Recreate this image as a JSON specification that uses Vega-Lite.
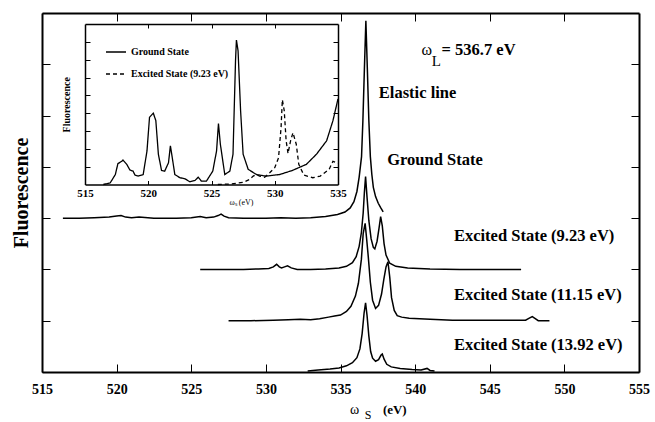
{
  "$schema": "https://vega.github.io/schema/vega-lite/v6.json",
  "width": 597,
  "height": 359,
  "autosize": {"type": "none"},
  "padding": {"left": 42, "top": 13, "right": 16, "bottom": 50},
  "background": "white",
  "config": {
    "view": {"stroke": null},
    "font": "Liberation Serif",
    "axis": {"grid": false, "domainColor": "black", "tickColor": "black", "labelColor": "black", "titleColor": "black", "labelFont": "Liberation Serif", "titleFont": "Liberation Serif", "labelFontWeight": "bold", "titleFontWeight": "bold"},
    "legend": {"labelFont": "Liberation Serif", "labelColor": "black"}
  },
  "datasets": {
    "main": [
      {"series": "Ground State", "x": 516.4, "y": 3.0},
      {"series": "Ground State", "x": 517.5, "y": 3.0},
      {"series": "Ground State", "x": 518.5, "y": 3.01},
      {"series": "Ground State", "x": 519.5, "y": 3.02},
      {"series": "Ground State", "x": 520.0, "y": 3.04},
      {"series": "Ground State", "x": 520.3, "y": 3.05},
      {"series": "Ground State", "x": 520.6, "y": 3.02},
      {"series": "Ground State", "x": 521.0, "y": 3.01},
      {"series": "Ground State", "x": 521.5, "y": 3.02},
      {"series": "Ground State", "x": 522.5, "y": 3.0},
      {"series": "Ground State", "x": 524.0, "y": 3.0},
      {"series": "Ground State", "x": 525.0, "y": 3.01},
      {"series": "Ground State", "x": 525.6, "y": 3.03},
      {"series": "Ground State", "x": 526.0, "y": 3.01},
      {"series": "Ground State", "x": 526.5, "y": 3.02},
      {"series": "Ground State", "x": 526.8, "y": 3.05},
      {"series": "Ground State", "x": 527.0, "y": 3.08},
      {"series": "Ground State", "x": 527.2, "y": 3.04},
      {"series": "Ground State", "x": 527.5, "y": 3.01},
      {"series": "Ground State", "x": 528.5, "y": 3.0},
      {"series": "Ground State", "x": 530.0, "y": 3.0},
      {"series": "Ground State", "x": 531.0, "y": 3.01},
      {"series": "Ground State", "x": 532.0, "y": 3.0},
      {"series": "Ground State", "x": 533.0, "y": 3.01},
      {"series": "Ground State", "x": 534.0, "y": 3.03},
      {"series": "Ground State", "x": 534.8, "y": 3.07},
      {"series": "Ground State", "x": 535.3, "y": 3.12},
      {"series": "Ground State", "x": 535.65, "y": 3.2},
      {"series": "Ground State", "x": 535.9, "y": 3.32},
      {"series": "Ground State", "x": 536.1, "y": 3.52},
      {"series": "Ground State", "x": 536.25, "y": 3.8},
      {"series": "Ground State", "x": 536.41, "y": 4.2},
      {"series": "Ground State", "x": 536.5, "y": 4.9},
      {"series": "Ground State", "x": 536.6, "y": 5.9},
      {"series": "Ground State", "x": 536.7, "y": 6.85},
      {"series": "Ground State", "x": 536.8, "y": 5.9},
      {"series": "Ground State", "x": 536.9, "y": 4.9},
      {"series": "Ground State", "x": 537.0, "y": 4.2},
      {"series": "Ground State", "x": 537.1, "y": 3.85},
      {"series": "Ground State", "x": 537.2, "y": 3.6},
      {"series": "Ground State", "x": 537.35, "y": 3.42},
      {"series": "Ground State", "x": 537.53, "y": 3.29},
      {"series": "Ground State", "x": 537.7, "y": 3.2},
      {"series": "Ground State", "x": 537.86, "y": 3.12},
      {"series": "Excited State (9.23 eV)", "x": 525.6, "y": 2.0},
      {"series": "Excited State (9.23 eV)", "x": 527.0, "y": 2.0},
      {"series": "Excited State (9.23 eV)", "x": 528.5, "y": 2.0},
      {"series": "Excited State (9.23 eV)", "x": 529.5, "y": 2.01},
      {"series": "Excited State (9.23 eV)", "x": 530.2, "y": 2.02},
      {"series": "Excited State (9.23 eV)", "x": 530.5, "y": 2.05},
      {"series": "Excited State (9.23 eV)", "x": 530.72, "y": 2.1},
      {"series": "Excited State (9.23 eV)", "x": 530.9, "y": 2.05},
      {"series": "Excited State (9.23 eV)", "x": 531.05, "y": 2.03},
      {"series": "Excited State (9.23 eV)", "x": 531.25, "y": 2.05},
      {"series": "Excited State (9.23 eV)", "x": 531.45, "y": 2.07},
      {"series": "Excited State (9.23 eV)", "x": 531.7, "y": 2.03},
      {"series": "Excited State (9.23 eV)", "x": 532.1, "y": 2.0},
      {"series": "Excited State (9.23 eV)", "x": 533.0, "y": 2.0},
      {"series": "Excited State (9.23 eV)", "x": 534.0, "y": 2.01},
      {"series": "Excited State (9.23 eV)", "x": 534.9, "y": 2.03},
      {"series": "Excited State (9.23 eV)", "x": 535.4, "y": 2.06},
      {"series": "Excited State (9.23 eV)", "x": 535.8, "y": 2.13},
      {"series": "Excited State (9.23 eV)", "x": 536.05, "y": 2.25},
      {"series": "Excited State (9.23 eV)", "x": 536.25, "y": 2.45},
      {"series": "Excited State (9.23 eV)", "x": 536.4, "y": 2.72},
      {"series": "Excited State (9.23 eV)", "x": 536.52, "y": 3.1},
      {"series": "Excited State (9.23 eV)", "x": 536.6, "y": 3.5},
      {"series": "Excited State (9.23 eV)", "x": 536.68, "y": 3.81},
      {"series": "Excited State (9.23 eV)", "x": 536.78, "y": 3.4},
      {"series": "Excited State (9.23 eV)", "x": 536.9, "y": 2.95},
      {"series": "Excited State (9.23 eV)", "x": 537.05, "y": 2.6},
      {"series": "Excited State (9.23 eV)", "x": 537.2, "y": 2.43},
      {"series": "Excited State (9.23 eV)", "x": 537.3, "y": 2.4},
      {"series": "Excited State (9.23 eV)", "x": 537.45, "y": 2.55},
      {"series": "Excited State (9.23 eV)", "x": 537.58, "y": 2.8},
      {"series": "Excited State (9.23 eV)", "x": 537.69, "y": 3.03},
      {"series": "Excited State (9.23 eV)", "x": 537.8, "y": 2.85},
      {"series": "Excited State (9.23 eV)", "x": 537.92, "y": 2.5},
      {"series": "Excited State (9.23 eV)", "x": 538.05, "y": 2.28},
      {"series": "Excited State (9.23 eV)", "x": 538.3, "y": 2.12},
      {"series": "Excited State (9.23 eV)", "x": 538.7, "y": 2.06},
      {"series": "Excited State (9.23 eV)", "x": 539.5, "y": 2.03},
      {"series": "Excited State (9.23 eV)", "x": 541.0, "y": 2.01},
      {"series": "Excited State (9.23 eV)", "x": 543.0, "y": 2.0},
      {"series": "Excited State (9.23 eV)", "x": 545.0, "y": 2.0},
      {"series": "Excited State (9.23 eV)", "x": 547.1, "y": 2.0},
      {"series": "Excited State (11.15 eV)", "x": 527.5, "y": 1.0},
      {"series": "Excited State (11.15 eV)", "x": 529.0, "y": 1.0},
      {"series": "Excited State (11.15 eV)", "x": 530.5, "y": 1.01},
      {"series": "Excited State (11.15 eV)", "x": 531.5, "y": 1.02},
      {"series": "Excited State (11.15 eV)", "x": 532.3, "y": 1.03},
      {"series": "Excited State (11.15 eV)", "x": 533.0, "y": 1.02},
      {"series": "Excited State (11.15 eV)", "x": 533.6, "y": 1.04},
      {"series": "Excited State (11.15 eV)", "x": 534.2, "y": 1.07},
      {"series": "Excited State (11.15 eV)", "x": 534.6, "y": 1.09},
      {"series": "Excited State (11.15 eV)", "x": 535.0, "y": 1.11},
      {"series": "Excited State (11.15 eV)", "x": 535.4, "y": 1.18},
      {"series": "Excited State (11.15 eV)", "x": 535.7, "y": 1.28},
      {"series": "Excited State (11.15 eV)", "x": 536.0, "y": 1.48},
      {"series": "Excited State (11.15 eV)", "x": 536.2, "y": 1.73},
      {"series": "Excited State (11.15 eV)", "x": 536.4, "y": 2.2},
      {"series": "Excited State (11.15 eV)", "x": 536.52, "y": 2.7},
      {"series": "Excited State (11.15 eV)", "x": 536.65, "y": 2.9},
      {"series": "Excited State (11.15 eV)", "x": 536.75, "y": 2.6},
      {"series": "Excited State (11.15 eV)", "x": 536.86, "y": 2.25},
      {"series": "Excited State (11.15 eV)", "x": 537.0, "y": 1.75},
      {"series": "Excited State (11.15 eV)", "x": 537.15, "y": 1.4},
      {"series": "Excited State (11.15 eV)", "x": 537.35, "y": 1.24},
      {"series": "Excited State (11.15 eV)", "x": 537.55, "y": 1.3},
      {"series": "Excited State (11.15 eV)", "x": 537.75, "y": 1.52},
      {"series": "Excited State (11.15 eV)", "x": 537.9, "y": 1.8},
      {"series": "Excited State (11.15 eV)", "x": 538.05, "y": 2.05},
      {"series": "Excited State (11.15 eV)", "x": 538.18, "y": 2.15},
      {"series": "Excited State (11.15 eV)", "x": 538.3, "y": 1.85},
      {"series": "Excited State (11.15 eV)", "x": 538.42, "y": 1.45},
      {"series": "Excited State (11.15 eV)", "x": 538.6, "y": 1.2},
      {"series": "Excited State (11.15 eV)", "x": 538.8, "y": 1.1},
      {"series": "Excited State (11.15 eV)", "x": 539.1, "y": 1.07},
      {"series": "Excited State (11.15 eV)", "x": 539.6, "y": 1.05},
      {"series": "Excited State (11.15 eV)", "x": 541.0, "y": 1.03},
      {"series": "Excited State (11.15 eV)", "x": 542.5, "y": 1.01},
      {"series": "Excited State (11.15 eV)", "x": 544.0, "y": 1.01},
      {"series": "Excited State (11.15 eV)", "x": 546.0, "y": 1.01},
      {"series": "Excited State (11.15 eV)", "x": 547.4, "y": 1.01},
      {"series": "Excited State (11.15 eV)", "x": 547.65, "y": 1.05},
      {"series": "Excited State (11.15 eV)", "x": 547.85, "y": 1.08},
      {"series": "Excited State (11.15 eV)", "x": 548.05, "y": 1.04},
      {"series": "Excited State (11.15 eV)", "x": 548.25, "y": 1.0},
      {"series": "Excited State (11.15 eV)", "x": 549.0, "y": 1.0},
      {"series": "Excited State (13.92 eV)", "x": 532.8, "y": 0.02},
      {"series": "Excited State (13.92 eV)", "x": 533.5, "y": 0.04},
      {"series": "Excited State (13.92 eV)", "x": 534.3, "y": 0.06},
      {"series": "Excited State (13.92 eV)", "x": 534.9, "y": 0.08},
      {"series": "Excited State (13.92 eV)", "x": 535.4, "y": 0.12},
      {"series": "Excited State (13.92 eV)", "x": 535.8, "y": 0.18},
      {"series": "Excited State (13.92 eV)", "x": 536.1, "y": 0.28},
      {"series": "Excited State (13.92 eV)", "x": 536.3, "y": 0.45},
      {"series": "Excited State (13.92 eV)", "x": 536.45, "y": 0.75},
      {"series": "Excited State (13.92 eV)", "x": 536.58, "y": 1.15},
      {"series": "Excited State (13.92 eV)", "x": 536.68, "y": 1.35},
      {"series": "Excited State (13.92 eV)", "x": 536.78, "y": 1.1},
      {"series": "Excited State (13.92 eV)", "x": 536.9, "y": 0.7},
      {"series": "Excited State (13.92 eV)", "x": 537.02, "y": 0.4},
      {"series": "Excited State (13.92 eV)", "x": 537.15, "y": 0.27},
      {"series": "Excited State (13.92 eV)", "x": 537.35, "y": 0.21},
      {"series": "Excited State (13.92 eV)", "x": 537.55, "y": 0.24},
      {"series": "Excited State (13.92 eV)", "x": 537.72, "y": 0.33},
      {"series": "Excited State (13.92 eV)", "x": 537.8, "y": 0.35},
      {"series": "Excited State (13.92 eV)", "x": 537.92, "y": 0.25},
      {"series": "Excited State (13.92 eV)", "x": 538.1, "y": 0.15},
      {"series": "Excited State (13.92 eV)", "x": 538.4, "y": 0.1},
      {"series": "Excited State (13.92 eV)", "x": 539.0, "y": 0.07},
      {"series": "Excited State (13.92 eV)", "x": 539.8, "y": 0.05},
      {"series": "Excited State (13.92 eV)", "x": 540.4, "y": 0.04},
      {"series": "Excited State (13.92 eV)", "x": 540.8, "y": 0.07},
      {"series": "Excited State (13.92 eV)", "x": 541.0, "y": 0.03},
      {"series": "Excited State (13.92 eV)", "x": 541.3, "y": 0.02}
    ],
    "inset": [
      {"series": "Ground State", "x": 516.45, "y": 0.0},
      {"series": "Ground State", "x": 517.0, "y": 0.1},
      {"series": "Ground State", "x": 517.4, "y": 0.56},
      {"series": "Ground State", "x": 517.6, "y": 1.17},
      {"series": "Ground State", "x": 517.9, "y": 1.3},
      {"series": "Ground State", "x": 518.0, "y": 1.37},
      {"series": "Ground State", "x": 518.3, "y": 1.13},
      {"series": "Ground State", "x": 518.55, "y": 0.81},
      {"series": "Ground State", "x": 518.8, "y": 0.75},
      {"series": "Ground State", "x": 518.95, "y": 0.53},
      {"series": "Ground State", "x": 519.2, "y": 0.47},
      {"series": "Ground State", "x": 519.6, "y": 0.56},
      {"series": "Ground State", "x": 519.9, "y": 1.88},
      {"series": "Ground State", "x": 520.1, "y": 3.77},
      {"series": "Ground State", "x": 520.4, "y": 4.0},
      {"series": "Ground State", "x": 520.6, "y": 3.58},
      {"series": "Ground State", "x": 520.8, "y": 1.7},
      {"series": "Ground State", "x": 521.05, "y": 0.79},
      {"series": "Ground State", "x": 521.3, "y": 0.75},
      {"series": "Ground State", "x": 521.6, "y": 1.22},
      {"series": "Ground State", "x": 521.75, "y": 2.17},
      {"series": "Ground State", "x": 521.9, "y": 1.5},
      {"series": "Ground State", "x": 522.1, "y": 0.56},
      {"series": "Ground State", "x": 522.5, "y": 0.38},
      {"series": "Ground State", "x": 522.9, "y": 0.32},
      {"series": "Ground State", "x": 523.3, "y": 0.15},
      {"series": "Ground State", "x": 523.7, "y": 0.23},
      {"series": "Ground State", "x": 523.95, "y": 0.41},
      {"series": "Ground State", "x": 524.2, "y": 0.19},
      {"series": "Ground State", "x": 524.6, "y": 0.19},
      {"series": "Ground State", "x": 525.1, "y": 0.75},
      {"series": "Ground State", "x": 525.4, "y": 1.88},
      {"series": "Ground State", "x": 525.55, "y": 3.42},
      {"series": "Ground State", "x": 525.7, "y": 2.26},
      {"series": "Ground State", "x": 526.05, "y": 0.56},
      {"series": "Ground State", "x": 526.45, "y": 0.75},
      {"series": "Ground State", "x": 526.7, "y": 1.7},
      {"series": "Ground State", "x": 526.9, "y": 6.97},
      {"series": "Ground State", "x": 526.97, "y": 8.1},
      {"series": "Ground State", "x": 527.1, "y": 7.5},
      {"series": "Ground State", "x": 527.3, "y": 4.14},
      {"series": "Ground State", "x": 527.5, "y": 1.7},
      {"series": "Ground State", "x": 527.9, "y": 0.85},
      {"series": "Ground State", "x": 528.55, "y": 0.56},
      {"series": "Ground State", "x": 529.3, "y": 0.47},
      {"series": "Ground State", "x": 530.4, "y": 0.56},
      {"series": "Ground State", "x": 531.4, "y": 0.79},
      {"series": "Ground State", "x": 532.5, "y": 1.13},
      {"series": "Ground State", "x": 533.3, "y": 1.7},
      {"series": "Ground State", "x": 534.1, "y": 2.45},
      {"series": "Ground State", "x": 534.6, "y": 3.58},
      {"series": "Ground State", "x": 535.0, "y": 4.8},
      {"series": "Excited State (9.23 eV)", "x": 525.5, "y": 0.0},
      {"series": "Excited State (9.23 eV)", "x": 526.5, "y": 0.03},
      {"series": "Excited State (9.23 eV)", "x": 527.5, "y": 0.12},
      {"series": "Excited State (9.23 eV)", "x": 528.0, "y": 0.28},
      {"series": "Excited State (9.23 eV)", "x": 528.3, "y": 0.47},
      {"series": "Excited State (9.23 eV)", "x": 528.55, "y": 0.56},
      {"series": "Excited State (9.23 eV)", "x": 528.8, "y": 0.47},
      {"series": "Excited State (9.23 eV)", "x": 529.2, "y": 0.41},
      {"series": "Excited State (9.23 eV)", "x": 529.6, "y": 0.66},
      {"series": "Excited State (9.23 eV)", "x": 530.0, "y": 0.94},
      {"series": "Excited State (9.23 eV)", "x": 530.3, "y": 1.5},
      {"series": "Excited State (9.23 eV)", "x": 530.5, "y": 3.2},
      {"series": "Excited State (9.23 eV)", "x": 530.6, "y": 4.75},
      {"series": "Excited State (9.23 eV)", "x": 530.75, "y": 4.14},
      {"series": "Excited State (9.23 eV)", "x": 530.9, "y": 2.45},
      {"series": "Excited State (9.23 eV)", "x": 531.05, "y": 1.74},
      {"series": "Excited State (9.23 eV)", "x": 531.25, "y": 2.45},
      {"series": "Excited State (9.23 eV)", "x": 531.44, "y": 2.9},
      {"series": "Excited State (9.23 eV)", "x": 531.7, "y": 2.26},
      {"series": "Excited State (9.23 eV)", "x": 531.9, "y": 1.13},
      {"series": "Excited State (9.23 eV)", "x": 532.3, "y": 0.53},
      {"series": "Excited State (9.23 eV)", "x": 533.0, "y": 0.38},
      {"series": "Excited State (9.23 eV)", "x": 533.6, "y": 0.47},
      {"series": "Excited State (9.23 eV)", "x": 534.3, "y": 0.85},
      {"series": "Excited State (9.23 eV)", "x": 534.6, "y": 1.3},
      {"series": "Excited State (9.23 eV)", "x": 534.9, "y": 1.22},
      {"series": "Excited State (9.23 eV)", "x": 535.0, "y": 1.2}
    ]
  },
  "layer": [
    {
      "data": {"name": "main"},
      "mark": {"type": "line", "color": "black", "strokeWidth": 1.5},
      "encoding": {
        "x": {"field": "x", "type": "quantitative", "scale": {"domain": [515, 555], "nice": false, "zero": false},
          "axis": {"orient": "bottom", "values": [515, 520, 525, 530, 535, 540, 545, 550, 555], "tickSize": -8, "labelPadding": 18, "labelFontSize": 14, "domainWidth": 2, "tickWidth": 1, "title": null, "labelFlush": false}},
        "y": {"field": "y", "type": "quantitative", "scale": {"domain": [0, 7], "nice": false, "zero": false},
          "axis": {"orient": "left", "values": [0, 1, 2, 3, 4, 5, 6, 7], "labels": false, "tickSize": -8, "domainWidth": 2, "title": "Fluorescence", "titleFontSize": 20, "titlePadding": 10}},
        "detail": {"field": "series"}
      }
    },
    {
      "data": {"name": "main"},
      "mark": {"type": "line", "opacity": 0},
      "encoding": {
        "x": {"field": "x", "type": "quantitative", "scale": {"domain": [515, 555], "nice": false, "zero": false},
          "axis": {"orient": "top", "values": [520, 525, 530, 535, 540, 545, 550], "labels": false, "tickSize": -8, "domainWidth": 2, "title": null}},
        "y": {"field": "y", "type": "quantitative", "scale": {"domain": [0, 7], "nice": false, "zero": false},
          "axis": {"orient": "right", "values": [1, 2, 3, 4, 5, 6], "labels": false, "tickSize": -8, "domainWidth": 2, "title": null}},
        "detail": {"field": "series"}
      }
    },
    {
      "data": {"values": [
        {"label": "Elastic line", "x": 537.57, "y": 5.34},
        {"label": "Ground State", "x": 538.13, "y": 4.03},
        {"label": "Excited State (9.23 eV)", "x": 542.6, "y": 2.56},
        {"label": "Excited State (11.15 eV)", "x": 542.6, "y": 1.4},
        {"label": "Excited State (13.92 eV)", "x": 542.6, "y": 0.43},
        {"label": "= 536.7 eV", "x": 541.77, "y": 6.18}
      ]},
      "mark": {"type": "text", "align": "left", "baseline": "alphabetic", "fontSize": 16.5, "fontWeight": "bold", "font": "Liberation Serif", "color": "black"},
      "encoding": {
        "x": {"field": "x", "type": "quantitative", "scale": {"domain": [515, 555], "nice": false, "zero": false}, "axis": null},
        "y": {"field": "y", "type": "quantitative", "scale": {"domain": [0, 7], "nice": false, "zero": false}, "axis": null},
        "text": {"field": "label"}
      }
    },
    {
      "data": {"values": [{"label": "ω", "x": 540.43, "y": 6.18}]},
      "mark": {"type": "text", "align": "left", "baseline": "alphabetic", "fontSize": 16, "font": "Liberation Serif", "color": "black"},
      "encoding": {
        "x": {"field": "x", "type": "quantitative", "scale": {"domain": [515, 555], "nice": false, "zero": false}, "axis": null},
        "y": {"field": "y", "type": "quantitative", "scale": {"domain": [0, 7], "nice": false, "zero": false}, "axis": null},
        "text": {"field": "label"}
      }
    },
    {
      "data": {"values": [{"label": "L", "x": 541.12, "y": 5.96}]},
      "mark": {"type": "text", "align": "left", "baseline": "alphabetic", "fontSize": 15, "font": "Liberation Serif", "color": "black"},
      "encoding": {
        "x": {"field": "x", "type": "quantitative", "scale": {"domain": [515, 555], "nice": false, "zero": false}, "axis": null},
        "y": {"field": "y", "type": "quantitative", "scale": {"domain": [0, 7], "nice": false, "zero": false}, "axis": null},
        "text": {"field": "label"}
      }
    },
    {
      "data": {"values": [{"label": "ω", "x": 535.63, "y": -0.82}]},
      "mark": {"type": "text", "align": "left", "baseline": "alphabetic", "fontSize": 14, "font": "Liberation Serif", "color": "black"},
      "encoding": {
        "x": {"field": "x", "type": "quantitative", "scale": {"domain": [515, 555], "nice": false, "zero": false}, "axis": null},
        "y": {"field": "y", "type": "quantitative", "scale": {"domain": [0, 7], "nice": false, "zero": false}, "axis": null},
        "text": {"field": "label"}
      }
    },
    {
      "data": {"values": [{"label": "S", "x": 536.63, "y": -0.92}]},
      "mark": {"type": "text", "align": "left", "baseline": "alphabetic", "fontSize": 12, "font": "Liberation Serif", "color": "black"},
      "encoding": {
        "x": {"field": "x", "type": "quantitative", "scale": {"domain": [515, 555], "nice": false, "zero": false}, "axis": null},
        "y": {"field": "y", "type": "quantitative", "scale": {"domain": [0, 7], "nice": false, "zero": false}, "axis": null},
        "text": {"field": "label"}
      }
    },
    {
      "data": {"values": [{"label": "(eV)", "x": 537.84, "y": -0.81}]},
      "mark": {"type": "text", "align": "left", "baseline": "alphabetic", "fontSize": 13, "fontWeight": "bold", "font": "Liberation Serif", "color": "black"},
      "encoding": {
        "x": {"field": "x", "type": "quantitative", "scale": {"domain": [515, 555], "nice": false, "zero": false}, "axis": null},
        "y": {"field": "y", "type": "quantitative", "scale": {"domain": [0, 7], "nice": false, "zero": false}, "axis": null},
        "text": {"field": "label"}
      }
    },
    {
      "data": {"name": "inset"},
      "mark": {"type": "line", "color": "black", "strokeWidth": 1.3},
      "encoding": {
        "x": {"field": "x", "type": "quantitative", "scale": {"domain": [515, 535], "range": [43, 296], "nice": false, "zero": false},
          "axis": {"orient": "bottom", "offset": -187.5, "values": [515, 520, 525, 530, 535], "tickSize": -4, "labelPadding": 7, "labelFontSize": 11, "domainWidth": 1.5, "labelFlush": false, "title": "ωₛ  (eV)", "titleFontSize": 8, "titleFontWeight": "normal", "titlePadding": 0, "titleX": 199}},
        "y": {"field": "y", "type": "quantitative", "scale": {"domain": [0, 9], "range": [171.5, 11], "nice": false, "zero": false},
          "axis": {"orient": "left", "offset": -43, "values": [1, 2, 3, 4, 5, 6, 7, 8], "labels": false, "tickSize": -5, "domainWidth": 1.5, "title": "Fluorescence", "titleFontSize": 10, "titlePadding": 13}},
        "strokeDash": {"field": "series", "type": "nominal",
          "scale": {"domain": ["Ground State", "Excited State (9.23 eV)"], "range": [[1, 0], [4, 3]]},
          "legend": {"orient": "none", "legendX": 63, "legendY": 28, "title": null, "padding": 0, "symbolType": "stroke", "symbolSize": 400, "symbolStrokeWidth": 1.3, "symbolStrokeColor": "black", "labelFontSize": 10, "labelFontWeight": "bold", "labelOffset": 4, "rowPadding": 6}}
      }
    },
    {
      "data": {"name": "inset"},
      "mark": {"type": "line", "opacity": 0},
      "encoding": {
        "x": {"field": "x", "type": "quantitative", "scale": {"domain": [515, 535], "range": [43, 296], "nice": false, "zero": false},
          "axis": {"orient": "top", "offset": -11, "values": [520, 525, 530], "labels": false, "tickSize": -4, "domainWidth": 1.5, "title": null}},
        "y": {"field": "y", "type": "quantitative", "scale": {"domain": [0, 9], "range": [171.5, 11], "nice": false, "zero": false},
          "axis": {"orient": "right", "offset": -301, "values": [1, 2, 3, 4, 5, 6, 7, 8], "labels": false, "tickSize": -5, "domainWidth": 1.5, "title": null}},
        "detail": {"field": "series"}
      }
    }
  ],
  "resolve": {"scale": {"x": "independent", "y": "independent"}, "axis": {"x": "independent", "y": "independent"}}
}
